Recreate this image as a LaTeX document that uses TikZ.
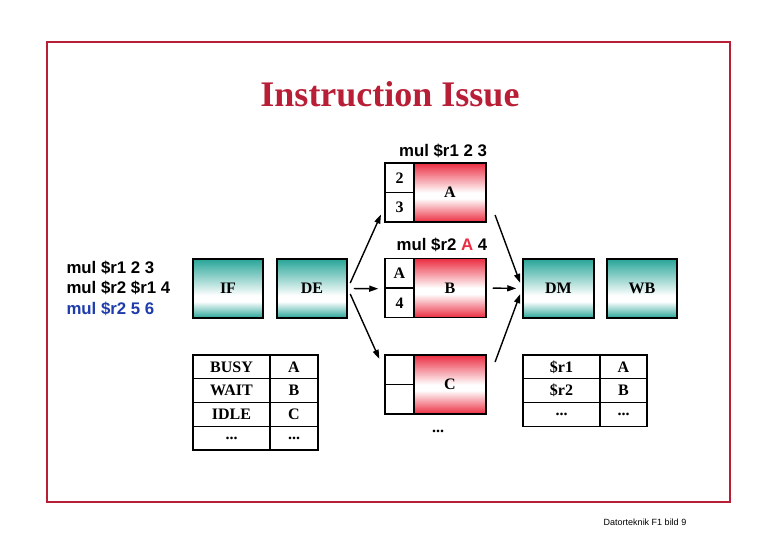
\documentclass[tikz,border=0pt]{standalone}
\usepackage{fontspec}
\setmainfont{Liberation Serif}
\setsansfont{Liberation Sans}
\usepackage{xcolor}
\usepackage{tikz}
\usetikzlibrary{
	arrows.meta,
	positioning
}

\definecolor{framered}{RGB}{185,30,55}
\definecolor{stageteal}{RGB}{40,165,152}
\definecolor{unitred}{RGB}{235,45,65}
\definecolor{instrblue}{RGB}{30,60,170}

\newcommand{\etcdots}{...}

\pgfdeclareverticalshading{stageshade}{100bp}{color(0bp)=(stageteal); color(25bp)=(stageteal); color(39bp)=(white); color(44bp)=(white); color(75bp)=(stageteal); color(100bp)=(stageteal)}
\pgfdeclareverticalshading{unitshade}{100bp}{color(0bp)=(unitred); color(25bp)=(unitred); color(45bp)=(white); color(50bp)=(white); color(75bp)=(unitred); color(100bp)=(unitred)}

\tikzset{
	stage/.style={draw, line width=1.5pt, shade, shading=stageshade, minimum width=70pt, minimum height=59pt, inner sep=0pt, font=\bfseries\fontsize{16}{16}\selectfont},
	unit/.style={draw, line width=1.5pt, shade, shading=unitshade, minimum width=72pt, minimum height=59pt, inner sep=0pt, font=\bfseries\fontsize{16}{16}\selectfont},
	slot/.style={draw, line width=1.5pt, fill=white, minimum width=29pt, minimum height=29.5pt, inner sep=0pt, font=\bfseries\fontsize{16}{16}\selectfont},
	cell/.style={draw, line width=1.3pt, minimum height=23.75pt, inner sep=0pt, font=\bfseries\fontsize{16}{16}\selectfont},
	instr/.style={font=\sffamily\bfseries\fontsize{16.8}{20.5}\selectfont},
	arr/.style={-{Triangle[length=9pt,width=6pt]}, line width=1.4pt, shorten <=6pt, shorten >=6pt}
}

\begin{document}
\begin{tikzpicture}[x=1pt, y=-1pt]
		\useasboundingbox (0,0) rectangle (780,540);
		\draw[framered, line width=2pt] (47,42) rectangle (730,502);
		\node[text=framered, font=\bfseries\fontsize{36}{36}\selectfont] (title) at (390,94) {Instruction Issue};
		% program
		\node[instr, anchor=west, align=left] (prog) at (63,288) {mul \$r1 2 3\\mul \$r2 \$r1 4\\\textcolor{instrblue}{mul \$r2 5 6}};
		% pipeline stages
		\node[stage] (IF) at (228,288.5) {IF};
		\node[stage] (DE) at (312,288.5) {DE};
		\node[stage, minimum width=71pt] (DM) at (558.5,288.5) {DM};
		\node[stage] (WB) at (642,288.5) {WB};
		% functional units
		\node[unit] (uA) at (450,192.5) {A};
		\node[slot] (uA1) at (399.5,177.75) {2};
		\node[slot] (uA2) at (399.5,207.25) {3};
		\node[instr] (instrA) at (443,151) {mul \$r1 2 3};
		\node[unit] (uB) at (450,288) {B};
		\node[slot] (uB1) at (399.5,273.25) {A};
		\node[slot] (uB2) at (399.5,302.75) {4};
		\node[instr] (instrB) at (442,245) {mul \$r2 \textcolor{unitred}{A} 4};
		\node[unit] (uC) at (450,384.5) {C};
		\node[slot] (uC1) at (399.5,369.75) {};
		\node[slot] (uC2) at (399.5,399.25) {};
		\node[font=\bfseries\fontsize{16}{16}\selectfont] (more) at (438,431) {\etcdots};
		% status table
		\foreach \st/\un [count=\i] in {BUSY/A, WAIT/B, IDLE/C, \etcdots/\etcdots} {
			\node[cell, minimum width=77pt] (st\i) at (231.5,{343.125+23.75*\i}) {\st};
			\node[cell, minimum width=48pt] (su\i) at (294,{343.125+23.75*\i}) {\un};
		}
		% register table
		\foreach \rg/\un [count=\i] in {\$r1/A, \$r2/B, \etcdots/\etcdots} {
			\node[cell, minimum width=77pt] (rg\i) at (561.5,{343.125+23.75*\i}) {\rg};
			\node[cell, minimum width=47pt] (ru\i) at (623.5,{343.125+23.75*\i}) {\un};
		}
		% issue
		\draw[arr, shorten >=8pt] (DE.east) -- (uA2.west);
		\draw[arr] (DE.east) -- (uB1.south west);
		\draw[arr, shorten >=12pt] (DE.east) -- (uC1.west);
		\draw[arr, shorten <=24pt] (uA.east) -- (DM.west);
		\draw[arr] (uB.east) -- (DM.west);
		\draw[arr, shorten <=24pt] (uC.east) -- (DM.west);
		\node[font=\sffamily\fontsize{9}{9}\selectfont] (foot) at (645,522) {Datorteknik F1 bild 9};
	\end{tikzpicture}
\end{document}
